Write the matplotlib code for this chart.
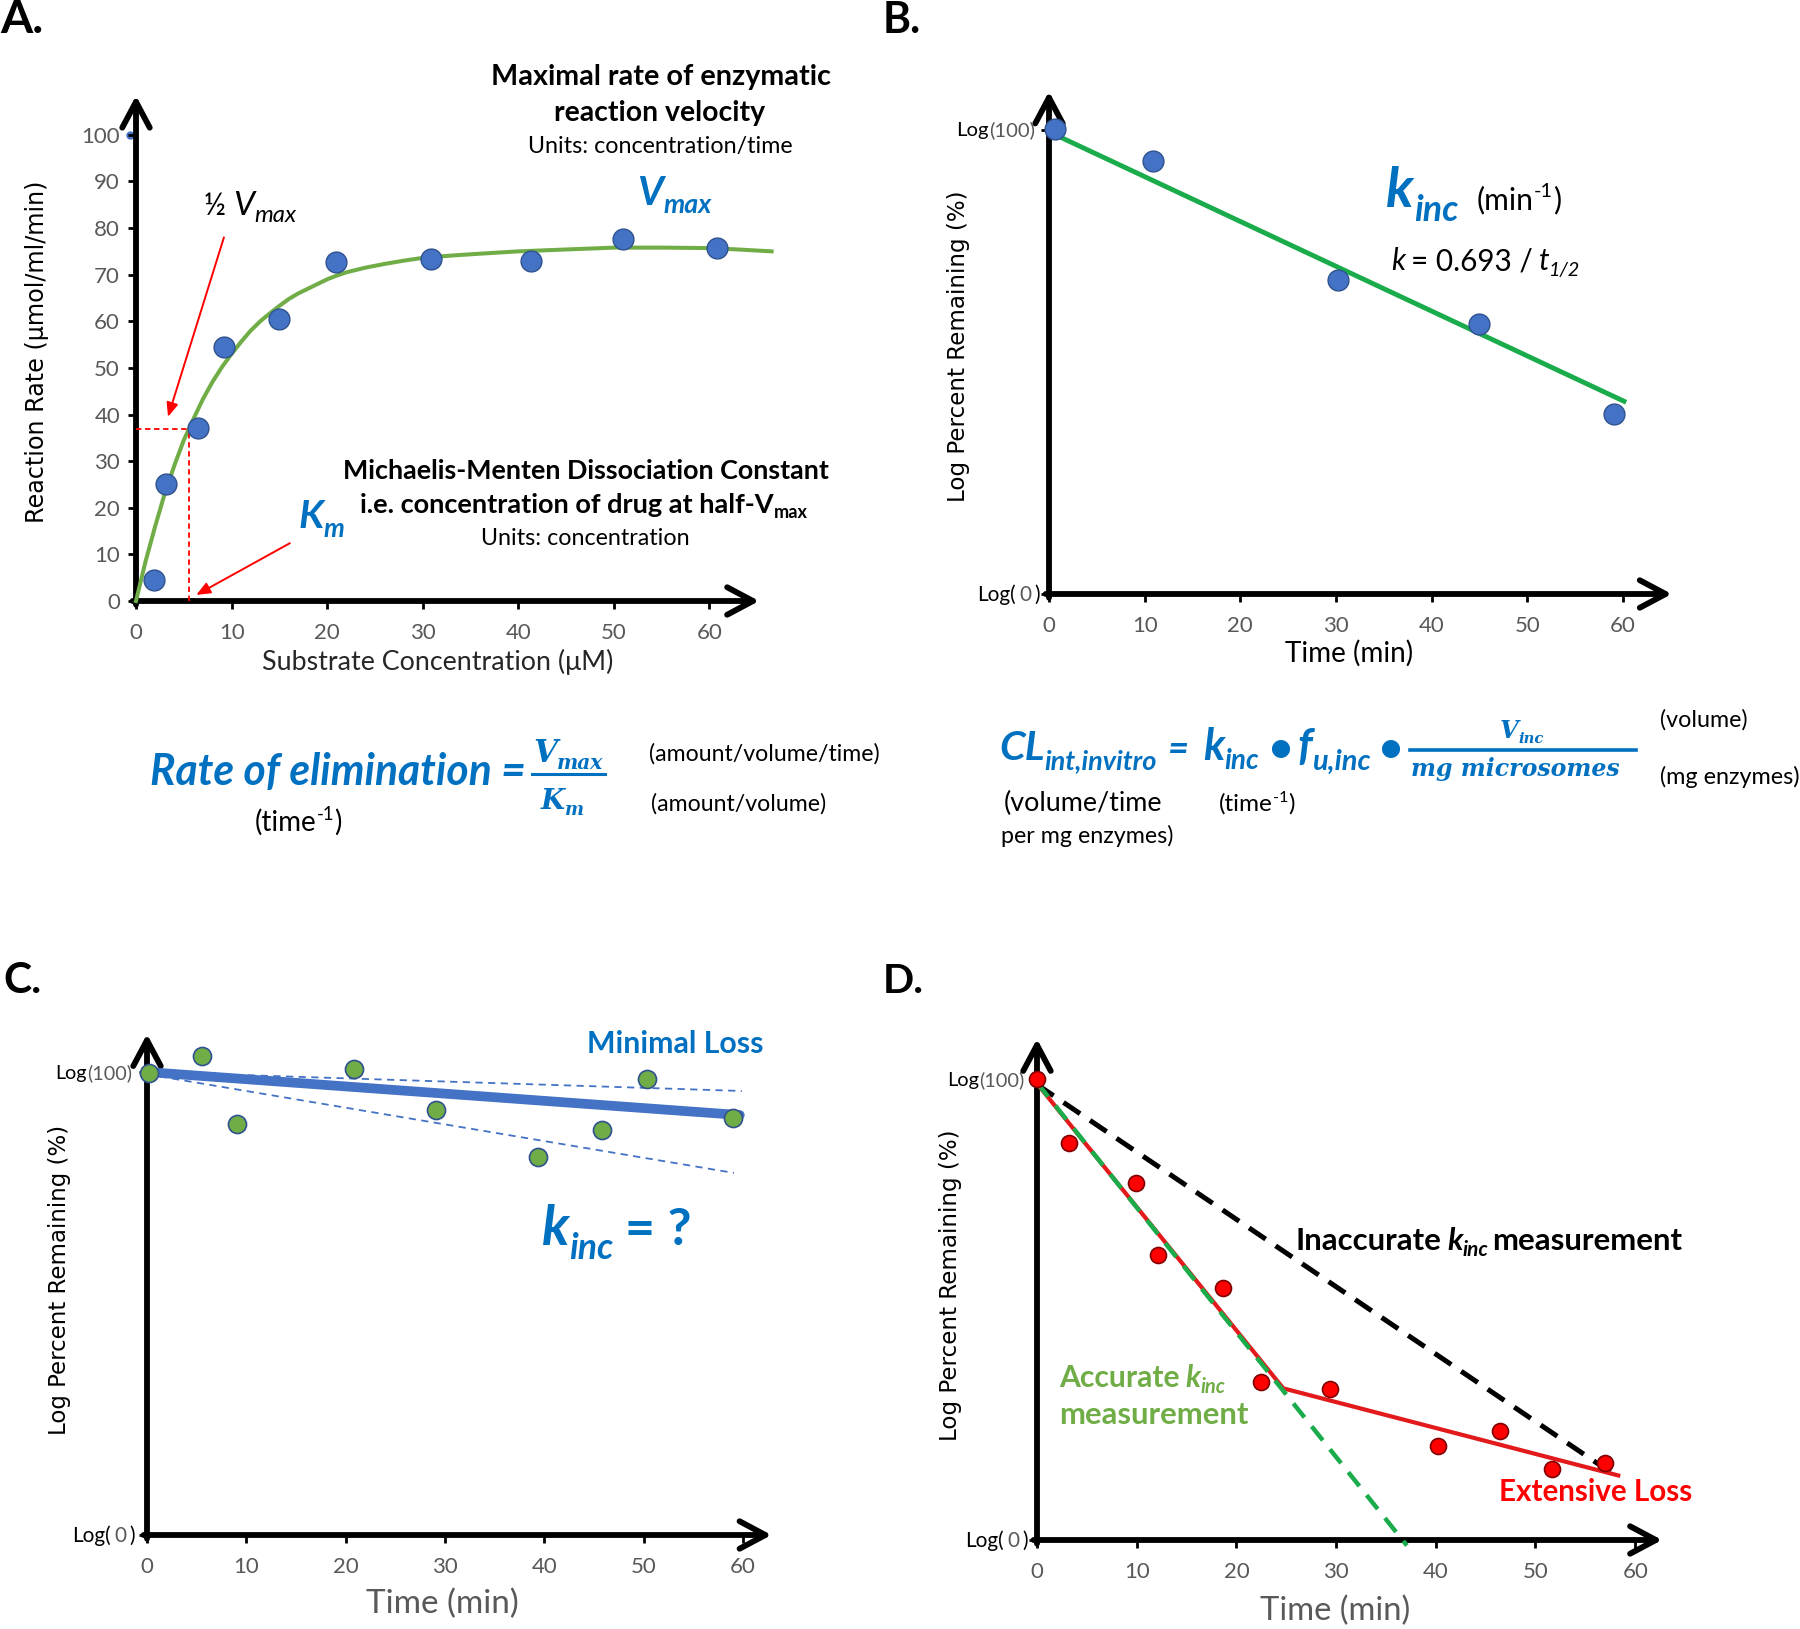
import matplotlib
matplotlib.use('Agg')
import matplotlib.pyplot as plt
from matplotlib.lines import Line2D

W, H = 1800, 1629
SANS = ['Lato', 'DejaVu Sans']
LBL = ['DejaVu Sans']
SERIF = ['DejaVu Serif']
BLUE = '#0070C0'
GRAY = '#595959'
plt.rcParams['font.family'] = SANS

# ---------------- data ----------------
# Panel A: Michaelis-Menten
a_substrate = [-0.6, 1.9, 3.1, 6.5, 9.2, 15.0, 20.9, 30.9, 41.3, 51.0, 60.8]
a_rate = [100, 4.5, 25.0, 37.2, 54.4, 60.4, 72.8, 73.4, 73.0, 77.7, 75.8]
a_fit_x = [0, 1, 2, 3, 4, 5, 6, 7, 8, 9, 10, 11, 12, 13, 14, 15, 16, 17, 18, 19, 20, 21, 22, 23, 24,
           26, 28, 30, 33, 36, 40, 45, 50, 55, 60, 63, 66.5]
a_fit_y = [0, 8.5, 16, 23, 29, 34.5, 39, 43.3, 47, 50.2, 53, 55.6, 58, 60, 61.7, 63.3, 64.8, 66, 67,
           68, 69, 69.8, 70.5, 71, 71.5, 72.3, 73, 73.6, 74.1, 74.5, 75, 75.4, 75.8, 75.8, 75.7, 75.4,
           75.0]
a_km = 5.5
a_half_vmax = 37.0
a_xticks = [0, 10, 20, 30, 40, 50, 60]
a_yticks = [0, 10, 20, 30, 40, 50, 60, 70, 80, 90, 100]

# Panel B: log-linear depletion
b_time = [0.6, 10.9, 30.2, 44.9, 59.1]
b_remaining = [100.1, 93.3, 67.7, 58.2, 38.8]
b_fit_time = [0, 60.1]
b_fit_remaining = [99.5, 41.5]

# Panel C: minimal loss
c_time = [0.2, 5.5, 9.1, 20.8, 29.1, 39.4, 45.8, 50.4, 59.0]
c_remaining = [99.8, 103.5, 88.8, 100.7, 91.8, 81.7, 87.5, 98.4, 90.0]
c_fit_time = [0, 59.7]
c_fit_remaining = [100, 90.7]
c_upper_time = [0, 59.9]
c_upper_remaining = [100, 95.9]
c_lower_time = [0, 59.1]
c_lower_remaining = [99.5, 78.2]

# Panel D: extensive loss
d_time = [0, 3.2, 9.9, 12.1, 18.7, 22.5, 29.4, 40.2, 46.4, 51.7, 57.0]
d_remaining = [100.1, 86.1, 77.5, 61.9, 54.6, 34.2, 32.8, 20.4, 23.7, 15.3, 16.6]
d_fit_time = [0, 24.7, 58.3]
d_fit_remaining = [99, 32.9, 14.0]
d_accurate_time = [0, 37.1]
d_accurate_remaining = [99.2, -1.2]
d_inaccurate_time = [0, 57.8]
d_inaccurate_remaining = [98.8, 14.3]

time_ticks = [0, 10, 20, 30, 40, 50, 60]

# ---------------- figure ----------------
fig = plt.figure(figsize=(W / 100, H / 100), dpi=100)
fig.patch.set_facecolor('white')
R = fig.canvas.get_renderer()


def rich(x, y, parts, ha='left', width=None):
    """Place a run of text pieces on a common baseline (pixel coords from top-left)."""
    def build(scale):
        objs, cx = [], 0.0
        for p in parts:
            if p[0] is None:
                cx += p[1] * scale
                continue
            s, size, dy, kw = p
            t = fig.text(0, 0, s, fontsize=size * scale, va='baseline', ha='left', **kw)
            w = t.get_window_extent(R).width
            objs.append((t, cx, dy * scale))
            cx += w
        return objs, cx
    objs, total = build(1.0)
    if width:
        for t, _, _ in objs:
            t.remove()
        objs, total = build(width / total)
    x0 = {'left': x, 'center': x - total / 2, 'right': x - total}[ha]
    for t, ox, dy in objs:
        t.set_position(((x0 + ox) / W, 1 - (y - dy) / H))
    return objs


def vlabel(x, y, s, length, size=16, family=LBL, color='black'):
    t = fig.text(x / W, 1 - y / H, s, rotation=90, ha='center', va='center',
                 fontsize=size, family=family, color=color)
    h = t.get_window_extent(R).height
    t.set_fontsize(size * length / h)
    return t


def hbar(x1, x2, y, lw=2.2, color=BLUE):
    fig.add_artist(Line2D([x1 / W, x2 / W], [1 - y / H, 1 - y / H], color=color, lw=lw))


def make_axes(x0, y0, sx, sy, xmax, ymax):
    ax = fig.add_axes([x0 / W, (H - y0) / H, sx * xmax / W, sy * ymax / H])
    ax.set_xlim(0, xmax)
    ax.set_ylim(0, ymax)
    for s in ax.spines.values():
        s.set_visible(False)
    ax.patch.set_alpha(0)
    arrow = dict(arrowstyle='->,head_length=0.62,head_width=0.33', lw=4.2, color='black',
                 mutation_scale=30, shrinkA=0, shrinkB=0)
    ax.annotate('', xy=(xmax, 0), xytext=(-0.35, 0), arrowprops=arrow, annotation_clip=False)
    ax.annotate('', xy=(0, ymax), xytext=(0, -0.8), arrowprops=arrow, annotation_clip=False)
    ax.tick_params(direction='out', length=6, width=2, color='black', labelsize=16,
                   labelcolor=GRAY)
    ax.tick_params(axis='x', pad=9.5)
    ax.tick_params(axis='y', pad=5.5)
    return ax


BI = dict(fontweight='bold', fontstyle='italic', color=BLUE)
SBI = dict(fontweight='bold', fontstyle='italic', color=BLUE, family=SERIF)
BOLD = dict(fontweight='bold', color='black')
REG = dict(color='black')
IT = dict(fontstyle='italic', color='black')

# ================= Panel A =================
axA = make_axes(136, 601, 9.558, 4.662, 65.2, 108.4)
axA.set_xticks(a_xticks)
axA.set_yticks(a_yticks)
axA.plot(a_fit_x, a_fit_y, color='#70AD47', lw=2.9, zorder=3, clip_on=False)
axA.plot(a_substrate[:1], a_rate[:1], 'o', ms=6, mfc='#4472C4', mec='#4472C4', mew=0,
         zorder=1, clip_on=False)
axA.plot(a_substrate[1:], a_rate[1:], 'o', ms=15, mfc='#4472C4', mec='#2F528F', mew=1,
         zorder=5, clip_on=False)
axA.plot([0, a_km], [a_half_vmax, a_half_vmax], color='red', lw=1.3, ls=(0, (3, 2)), zorder=4)
axA.plot([a_km, a_km], [0, a_half_vmax], color='red', lw=1.3, ls=(0, (3, 2)), zorder=4)
red_arrow = dict(arrowstyle='-|>,head_length=0.6,head_width=0.25', color='red', lw=1.4,
                 mutation_scale=14, shrinkA=0, shrinkB=0)
axA.annotate('', xy=(3.35, 39.5), xytext=(9.2, 78), arrowprops=red_arrow)
axA.annotate('', xy=(6.3, 1.3), xytext=(16.1, 12.4), arrowprops=red_arrow)

rich(0, 33, [('A.', 30, 0, BOLD)], width=43)
rich(661, 85, [('Maximal rate of enzymatic', 19, 0, BOLD)], ha='center', width=339)
rich(660, 121, [('reaction velocity', 19, 0, BOLD)], ha='center', width=210)
rich(660, 153, [('Units: concentration/time', 15, 0, REG)], ha='center', width=264)
rich(204, 215, [('½', 19, 0, REG), (None, 6), ('V', 21, 0, IT), ('max', 15, -6, IT)], width=92)
rich(637, 205, [('V', 30, 0, BI), ('max', 20, -8, BI)], width=74)
rich(586, 479, [('Michaelis-Menten Dissociation Constant', 18, 0, BOLD)], ha='center', width=488)
rich(584, 513, [('i.e. concentration of drug at half-V', 18, 0, BOLD), ('max', 12, -5, BOLD)],
     ha='center', width=450)
rich(585, 545, [('Units: concentration', 15, 0, REG)], ha='center', width=208)
rich(298, 528, [('K', 30, 0, BI), ('m', 20, -10, BI)], width=46)
vlabel(37, 352, 'Reaction Rate (μmol/ml/min)', 344)
rich(438, 670, [('Substrate Concentration (μM)', 17, 0, dict(color='#262626'))], ha='center',
     width=350)

# ================= Panel B =================
axB = make_axes(1049, 594, 9.567, 4.645, 65.1, 108.2)
axB.set_xticks(time_ticks)
axB.set_yticks([0, 100])
axB.set_yticklabels([])
axB.plot(b_fit_time, b_fit_remaining, color='#1AAB4B', lw=3.5, zorder=3)
axB.plot(b_time, b_remaining, 'o', ms=15, mfc='#4472C4', mec='#2F528F', mew=1, zorder=5,
         clip_on=False)
rich(883, 33, [('B.', 30, 0, BOLD)], width=38)
rich(1386, 207, [('k', 34, 0, BI), ('inc', 22, -12, BI)], width=72)
rich(1477, 209, [('(min', 15, 0, REG), ('-1', 10, 8, REG), (')', 15, 0, REG)], width=84)
rich(1391, 270, [('k', 18, 0, IT), (None, 5), ('= 0.693 /', 18, 0, REG), (None, 5), ('t', 18, 0, IT),
                 ('1/2', 12, -5, IT)], width=190)
vlabel(959, 346, 'Log Percent Remaining (%)', 312)
rich(1349, 662, [('Time (min)', 17, 0, REG)], ha='center', width=128)
rich(1035, 136, [('Log', 14, 0, REG), ('(100)', 14, 0, dict(color=GRAY))], ha='right', width=79)
rich(1040, 601, [('Log(', 14, 0, REG), (None, 3), ('0', 14, 0, dict(color=GRAY)), (None, 3),
                 (')', 14, 0, REG)], ha='right', width=63)

# ================= Formulas =================
rich(150, 785, [('Rate of elimination =', 26, 0, BI)], width=376)
rich(568, 762, [('V', 20, 0, SBI), ('max', 13, -6, SBI)], ha='center', width=70)
hbar(532, 605, 774)
rich(562, 809, [('K', 20, 0, SBI), ('m', 13, -6, SBI)], ha='center', width=43)
rich(649, 761, [('(amount/volume/time)', 15, 0, REG)], width=232)
rich(651, 811, [('(amount/volume)', 15, 0, REG)], width=176)
rich(255, 831, [('(time', 15, 0, REG), ('-1', 10, 8, REG), (')', 15, 0, REG)], width=87)

rich(999, 760, [('CL', 26, 0, BI), ('int,invitro', 17, -8, BI)], width=158)
rich(1178, 760, [('=', 26, 0, BI)], ha='center')
rich(1203, 760, [('k', 26, 0, BI), ('inc', 17, -8, BI)], width=56)
rich(1280, 762, [('•', 30, 0, BI)], ha='center')
rich(1297, 760, [('f', 26, 0, BI), ('u,inc', 17, -8, BI)], width=73)
rich(1390, 762, [('•', 30, 0, BI)], ha='center')
rich(1522, 738, [('V', 18, 0, SBI), ('inc', 11, -5, SBI)], ha='center', width=44)
hbar(1410, 1636, 750, lw=2.6)
rich(1515, 776, [('mg microsomes', 17, 0, SBI)], ha='center', width=209)
rich(1660, 727, [('(volume)', 15, 0, REG)], width=88)
rich(1660, 784, [('(mg enzymes)', 15, 0, REG)], width=140)
rich(1004, 811, [('(volume/time', 15, 0, REG)], width=159)
rich(1001, 843, [('per mg enzymes)', 15, 0, REG)], width=173)
rich(1219, 811, [('(time', 15, 0, REG), ('-1', 10, 8, REG), (')', 15, 0, REG)], width=76)

# ================= Panel C =================
axC = make_axes(147, 1535, 9.93, 4.63, 62.9, 108.2)
axC.set_xticks(time_ticks)
axC.set_yticks([0, 100])
axC.set_yticklabels([])
axC.plot(c_fit_time, c_fit_remaining, color='#4472C4', lw=7, zorder=3, solid_capstyle='round')
axC.plot(c_upper_time, c_upper_remaining, color='#4472C4', lw=1.3, ls=(0, (4, 3)), zorder=3)
axC.plot(c_lower_time, c_lower_remaining, color='#4472C4', lw=1.3, ls=(0, (4, 3)), zorder=3)
axC.plot(c_time, c_remaining, 'o', ms=13, mfc='#70AD47', mec='#2F528F', mew=1.2, zorder=5,
         clip_on=False)
rich(3, 993, [('C.', 30, 0, BOLD)], width=38)
rich(587, 1053, [('Minimal Loss', 20, 0, dict(fontweight='bold', color=BLUE))], width=176)
rich(542, 1245, [('k', 34, 0, BI), ('inc', 22, -12, BI), (None, 10),
                 ('= ?', 32, 0, dict(fontweight='bold', color=BLUE))], width=150)
vlabel(60, 1280, 'Log Percent Remaining (%)', 311)
rich(442, 1613, [('Time (min)', 20, 0, dict(color=GRAY))], ha='center', width=153)
rich(132, 1079, [('Log', 14, 0, REG), ('(100)', 14, 0, dict(color=GRAY))], ha='right', width=77)
rich(135, 1542, [('Log(', 14, 0, REG), (None, 3), ('0', 14, 0, dict(color=GRAY)), (None, 3),
                 (')', 14, 0, REG)], ha='right', width=63)

# ================= Panel D =================
axD = make_axes(1037, 1540, 9.97, 4.61, 62.7, 108.7)
axD.set_xticks(time_ticks)
axD.set_yticks([0, 100])
axD.set_yticklabels([])
axD.plot(d_inaccurate_time, d_inaccurate_remaining, color='black', lw=3.6, ls=(0, (4, 2.4)), zorder=3)
axD.plot(d_fit_time, d_fit_remaining, color='#E31A1C', lw=3.0, zorder=3)
axD.plot(d_accurate_time, d_accurate_remaining, color='#1AAB4B', lw=3.2, ls=(0, (4, 2.6)), zorder=4,
         clip_on=False)
axD.plot(d_time, d_remaining, 'o', ms=11.5, mfc='#FF0000', mec='#7F0000', mew=1.2, zorder=5,
         clip_on=False)
rich(883, 993, [('D.', 30, 0, BOLD)], width=41)
rich(1295, 1250, [('Inaccurate', 18, 0, BOLD), (None, 5),
                  ('k', 18, 0, dict(fontweight='bold', fontstyle='italic', color='black')),
                  ('inc', 12, -5, dict(fontweight='bold', fontstyle='italic', color='black')), (None, 3),
                  ('measurement', 18, 0, BOLD)], width=386)
GB = dict(fontweight='bold', color='#70AD47')
GBI = dict(fontweight='bold', fontstyle='italic', color='#70AD47')
rich(1059, 1387, [('Accurate', 18, 0, GB), (None, 5), ('k', 18, 0, GBI), ('inc', 12, -5, GBI)],
     width=167)
rich(1059, 1424, [('measurement', 18, 0, GB)], width=189)
rich(1499, 1501, [('Extensive Loss', 18, 0, dict(fontweight='bold', color='#FF0000'))], width=194)
vlabel(950, 1285, 'Log Percent Remaining (%)', 312)
rich(1335, 1620, [('Time (min)', 20, 0, dict(color=GRAY))], ha='center', width=151)
rich(1024, 1086, [('Log', 14, 0, REG), ('(100)', 14, 0, dict(color=GRAY))], ha='right', width=78)
rich(1028, 1547, [('Log(', 14, 0, REG), (None, 3), ('0', 14, 0, dict(color=GRAY)), (None, 3),
                  (')', 14, 0, REG)], ha='right', width=63)

fig.savefig('out.png', dpi=100, facecolor='white')
